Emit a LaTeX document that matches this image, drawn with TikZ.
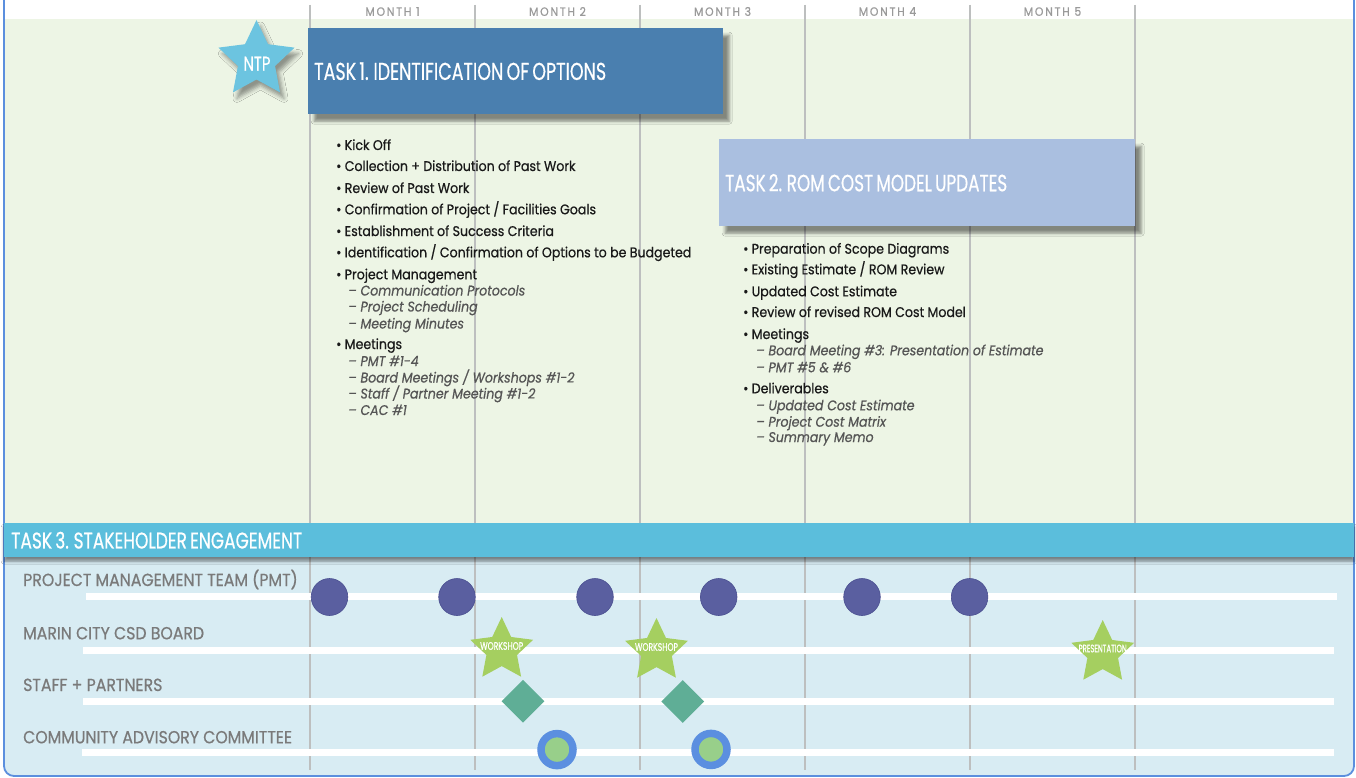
\documentclass[tikz,border=0pt]{standalone}
\usepackage{fontspec}
\usepackage{graphicx}
\setmainfont{Poppins}[FakeStretch=0.9, FakeBold=0.6]
\usetikzlibrary{shapes.geometric,shadows,shadows.blur}

\definecolor{bgGreen}{HTML}{EDF5E5}
\definecolor{bgBlue}{HTML}{D8ECF3}
\definecolor{frameBlue}{HTML}{5B8FDE}
\definecolor{monthGray}{HTML}{BDBFBF}
\definecolor{monthLbl}{HTML}{9A9A9A}
\definecolor{taskOne}{HTML}{4A7FAF}
\definecolor{taskTwo}{HTML}{AABFE0}
\definecolor{taskThree}{HTML}{5BBEDC}
\definecolor{ntpBlue}{HTML}{6CC4E0}
\definecolor{subGray}{HTML}{555555}
\definecolor{rowGray}{HTML}{7A7A7A}
\definecolor{pmtBlue}{HTML}{5A5FA0}
\definecolor{pmtEdge}{HTML}{4A4F90}
\definecolor{boardGreen}{HTML}{A5CF60}
\definecolor{staffGreen}{HTML}{5FAE96}
\definecolor{cacBlue}{HTML}{5B8FE0}
\definecolor{cacGreen}{HTML}{98CF8A}

% squeezed caps for the banner titles
\newcommand{\bannertxt}[3]{\resizebox{#1}{#2}{\fontsize{20}{20}\selectfont #3}}

\begin{document}
\begin{tikzpicture}[x=1pt,y=-1pt,
  month/.style={draw=monthGray, line width=1.7pt},
  monthlbl/.style={text=monthLbl, inner sep=0pt, font=\fontsize{12}{12}\selectfont\addfontfeature{LetterSpace=15}},
  taskbox/.style={anchor=north west, inner xsep=6pt, inner ysep=0pt, align=left, text=white,
    blur shadow={shadow xshift=6pt, shadow yshift=-7pt, shadow blur radius=3pt, shadow opacity=45}},
  item/.style={anchor=base west, inner sep=0pt, text=black!90, font=\fontsize{14}{14}\selectfont},
  subitem/.style={anchor=base west, inner sep=0pt, text=subGray, font=\fontsize{14}{14}\selectfont\itshape},
  rowlbl/.style={anchor=base west, inner sep=0pt, text=rowGray, font=\fontsize{17.5}{17.5}\selectfont},
  track/.style={draw=white, line width=6.5pt},
  pmt/.style={ellipse, fill=pmtBlue, draw=pmtEdge, line width=0.6pt, minimum width=36.6pt, minimum height=37pt, inner sep=0pt},
  board/.style={star, star points=5, star point ratio=2.05, fill=boardGreen, minimum size=66pt, inner sep=0pt},
  starlbl/.style={inner sep=0pt, text=white},
  staff/.style={diamond, fill=staffGreen, minimum width=43pt, minimum height=43pt, inner sep=0pt},
  cac/.style={circle, fill=cacGreen, draw=cacBlue, line width=7.5pt, minimum size=32pt, inner sep=0pt},
]
\useasboundingbox (0,0) rectangle (1356,778);

% backgrounds and frame
\fill[white] (0,0) rectangle (1356,778);
\fill[bgGreen] (4,19) rectangle (1354,523);
\fill[bgBlue] (4,540) {[rounded corners=10pt] -- (4,776) -- (1354,776)} -- (1354,540) -- cycle;
\draw[frameBlue, line width=1.8pt] (4,0) {[rounded corners=10pt] -- (4,776) -- (1354,776)} -- (1354,0);

% month grid
\foreach \n/\x in {0/310,1/475,2/640,3/805,4/970,5/1135} {
  \coordinate (mt\n) at (\x,5);
  \coordinate (mb\n) at (\x,770);
  \draw[month] (mt\n) -- (mb\n);
}
\foreach \n/\x in {1/392.5,2/557.5,3/722.5,4/887.5,5/1052.5}
  \node[monthlbl] (mon\n) at (\x,11.5) {MONTH \n};

% task 3 band
\node[anchor=north west, fill=taskThree, minimum width=1350pt, minimum height=34pt, inner xsep=7pt,
  inner ysep=0pt, text width=1336pt, align=left, text=white,
  blur shadow={shadow xshift=0pt, shadow yshift=-4pt, shadow blur radius=3pt, shadow opacity=45}]
  (task3) at (4,523) {\bannertxt{291pt}{16.7pt}{TASK 3. STAKEHOLDER ENGAGEMENT}};

% task 1
\node[taskbox, fill=taskOne, minimum width=415pt, minimum height=86pt, text width=403pt]
  (task1) at (308,28) {\bannertxt{292pt}{17.6pt}{TASK 1. IDENTIFICATION OF OPTIONS}};
\node[star, star points=5, star point ratio=2.05, fill=ntpBlue, minimum size=80pt, inner sep=0pt,
  blur shadow={shadow xshift=4pt, shadow yshift=-6pt, shadow blur radius=4pt, shadow opacity=40}]
  (ntp) at (256.5,60) {};
\node[starlbl] (ntpLbl) at (257,63.7) {\bannertxt{27pt}{14pt}{NTP}};

\node[item] (kick) at (336,150) {• Kick Off};
\node[item] (collect) at (336,171) {• Collection + Distribution of Past Work};
\node[item] (review) at (336,193) {• Review of Past Work};
\node[item] (goals) at (336,214.3) {• Confirmation of Project / Facilities Goals};
\node[item] (success) at (336,236) {• Establishment of Success Criteria};
\node[item] (options) at (336,257.3) {• Identification / Confirmation of Options to be Budgeted};
\node[item] (pm) at (336,279.3) {• Project Management};
\node[subitem] (comm) at (348,295.5) {– Communication Protocols};
\node[subitem] (sched) at (348,311.5) {– Project Scheduling};
\node[subitem] (minutes) at (348,328.5) {– Meeting Minutes};
\node[item] (meet1) at (336,349) {• Meetings};
\node[subitem] (pmtA) at (348,366) {– PMT \#1-4};
\node[subitem] (boardA) at (348,382.5) {– Board Meetings / Workshops \#1-2};
\node[subitem] (staffA) at (348,398.5) {– Staff / Partner Meeting \#1-2};
\node[subitem] (cacA) at (348,415) {– CAC \#1};

% task 2
\node[taskbox, fill=taskTwo, minimum width=416pt, minimum height=87pt, text width=404pt]
  (task2) at (719,139) {\bannertxt{282pt}{17.3pt}{TASK 2. ROM COST MODEL UPDATES}};

\node[item] (scope) at (743,253.7) {• Preparation of Scope Diagrams};
\node[item] (existing) at (743,274.3) {• Existing Estimate / ROM Review};
\node[item] (updated) at (743,296.3) {• Updated Cost Estimate};
\node[item] (revised) at (743,317) {• Review of revised ROM Cost Model};
\node[item] (meet2) at (743,339) {• Meetings};
\node[subitem] (boardB) at (756,355.3) {– Board Meeting \#3: Presentation of Estimate};
\node[subitem] (pmtB) at (756,372.3) {– PMT \#5 \& \#6};
\node[item] (deliv) at (743,393.3) {• Deliverables};
\node[subitem] (costest) at (756,410.3) {– Updated Cost Estimate};
\node[subitem] (matrix) at (756,426.7) {– Project Cost Matrix};
\node[subitem] (memo) at (756,442) {– Summary Memo};

% stakeholder rows
\node[rowlbl] (rowPmt) at (23,586) {PROJECT MANAGEMENT TEAM (PMT)};
\node[rowlbl] (rowBoard) at (23,639.3) {MARIN CITY CSD BOARD};
\node[rowlbl] (rowStaff) at (23,691) {STAFF + PARTNERS};
\node[rowlbl] (rowCac) at (23,743.3) {COMMUNITY ADVISORY COMMITTEE};

\coordinate (pmtL) at (86,596.5);   \coordinate (pmtR) at (1337,596.5);
\coordinate (boardL) at (83,650.5); \coordinate (boardR) at (1334,650.5);
\coordinate (staffL) at (83,701.5); \coordinate (staffR) at (1334,701.5);
\coordinate (cacL) at (82,752.3);   \coordinate (cacR) at (1334,752.3);
\draw[track] (pmtL) -- (pmtR);
\draw[track] (boardL) -- (boardR);
\draw[track] (staffL) -- (staffR);
\draw[track] (cacL) -- (cacR);

\node[pmt] (pmt1) at (329.5,597) {};
\node[pmt] (pmt2) at (457,597) {};
\node[pmt] (pmt3) at (595,597) {};
\node[pmt] (pmt4) at (718.7,597) {};
\node[pmt] (pmt5) at (862,597) {};
\node[pmt] (pmt6) at (969.6,597) {};

\node[board] (work1) at (501.7,650) {};
\node[starlbl] at (501.7,646) {\bannertxt{43pt}{7.7pt}{WORKSHOP}};
\node[board] (work2) at (656.5,651) {};
\node[starlbl] at (656.5,647) {\bannertxt{43pt}{7.7pt}{WORKSHOP}};
\node[board] (present) at (1102.7,653) {};
\node[starlbl] at (1102.7,648.5) {\bannertxt{48pt}{7.7pt}{PRESENTATION}};

\node[staff] (staff1) at (523,701.3) {};
\node[staff] (staff2) at (682.8,701.5) {};

\node[cac] (cac1) at (557,749.6) {};
\node[cac] (cac2) at (711,749.4) {};
\end{tikzpicture}
\end{document}
